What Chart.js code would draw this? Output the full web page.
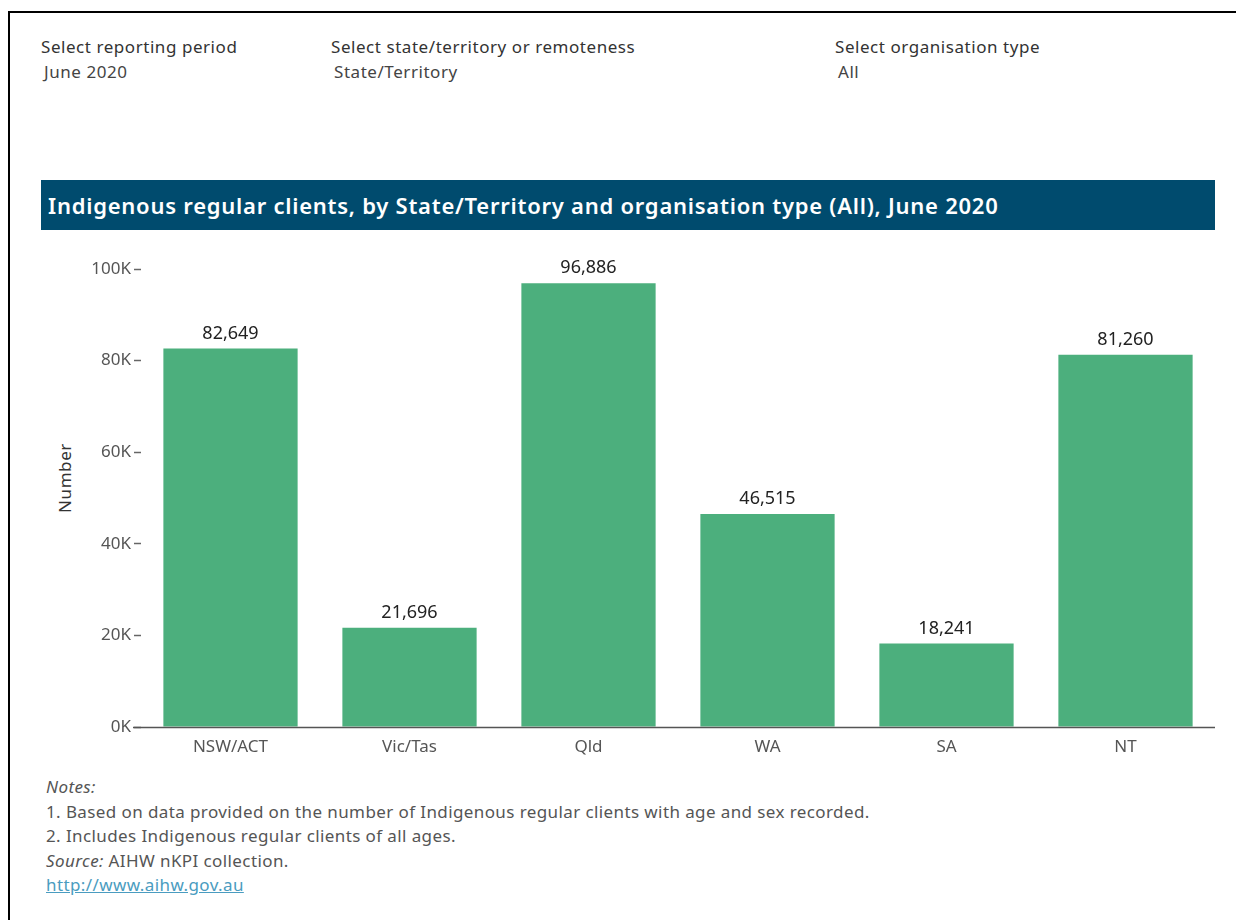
<!DOCTYPE html>
<html>
<head>
<meta charset="utf-8">
<script src="https://cdn.jsdelivr.net/npm/chart.js@4.4.1/dist/chart.umd.min.js"></script>
<style>
  body { margin:0; width:1236px; height:920px; background:#fff; position:relative; overflow:hidden;
         font-family:"Noto Sans", sans-serif; }
  .frame { position:absolute; left:8px; top:11px; width:1240px; height:920px;
           border-top:2px solid #000; border-left:2px solid #000; }
  .filter { position:absolute; top:35px; font-size:17px; letter-spacing:0.55px; color:#333; line-height:23px; }
  .filter .v { margin-top:2px; margin-left:3px; color:#444; }
  .banner { position:absolute; left:41px; top:180px; width:1174px; height:50px; background:#004b6e;
            color:#fff; font-size:22px; font-weight:600; letter-spacing:0.75px; line-height:50px; padding-left:7px;
            box-sizing:border-box; white-space:nowrap; }
  #wrap { position:absolute; left:40px; top:245px; width:1176px; height:520px; }
  .ytitle { position:absolute; left:64px; top:478px; transform:translate(-50%,-50%) rotate(-90deg);
            font-size:17px; letter-spacing:0.6px; color:#333; white-space:nowrap; }
  .notes { position:absolute; left:46px; top:775px; font-size:17px; letter-spacing:0.4px; color:#555; line-height:24.6px; }
  .notes i { color:#555; }
  .notes a { color:#4a9cc0; text-decoration:underline; }
</style>
</head>
<body>
<div class="frame"></div>

<div class="filter" style="left:41px">Select reporting period<div class="v">June 2020</div></div>
<div class="filter" style="left:331px">Select state/territory or remoteness<div class="v">State/Territory</div></div>
<div class="filter" style="left:835px">Select organisation type<div class="v">All</div></div>

<div class="banner">Indigenous regular clients, by State/Territory and organisation type (All), June 2020</div>

<div class="ytitle">Number</div>
<div id="wrap"><canvas id="chart"></canvas></div>

<div class="notes">
  <i>Notes:</i><br>
  1. Based on data provided on the number of Indigenous regular clients with age and sex recorded.<br>
  2. Includes Indigenous regular clients of all ages.<br>
  <i>Source:</i> AIHW nKPI collection.<br>
  <a>http://www.aihw.gov.au</a>
</div>

<script>
// Regions and client counts
const regions = ['NSW/ACT', 'Vic/Tas', 'Qld', 'WA', 'SA', 'NT'];
const clients = [82649, 21696, 96886, 46515, 18241, 81260];
const yTicks = [0, 20000, 40000, 60000, 80000, 100000];

const BAR_GREEN = '#4caf7d';

// Value labels above each bar
const valueLabels = {
  id: 'valueLabels',
  afterDatasetsDraw(chart) {
    const ctx = chart.ctx;
    const meta = chart.getDatasetMeta(0);
    ctx.save();
    ctx.font = '18px "Noto Sans", sans-serif';
    ctx.fillStyle = '#222';
    ctx.textAlign = 'center';
    ctx.textBaseline = 'bottom';
    meta.data.forEach((bar, i) => {
      const v = chart.data.datasets[0].data[i];
      ctx.fillText(v.toLocaleString('en-US'), bar.x, bar.y - 6);
    });
    ctx.restore();
  }
};

// Baseline that runs slightly past the left edge of the plot
const baseline = {
  id: 'baseline',
  afterDatasetsDraw(chart) {
    const { ctx, chartArea } = chart;
    const y = chart.scales.y.getPixelForValue(0);
    ctx.save();
    ctx.strokeStyle = '#555';
    ctx.lineWidth = 1.5;
    ctx.beginPath();
    ctx.moveTo(chartArea.left - 8, y + 0.5);
    ctx.lineTo(chartArea.right, y + 0.5);
    ctx.stroke();
    ctx.restore();
  }
};

new Chart(document.getElementById('chart'), {
  type: 'bar',
  data: {
    labels: regions,
    datasets: [{
      data: clients,
      backgroundColor: BAR_GREEN,
      barPercentage: 0.75,
      categoryPercentage: 1.0
    }]
  },
  options: {
    responsive: true,
    maintainAspectRatio: false,
    animation: false,
    layout: { padding: { top: 24, right: 1, left: 0, bottom: 0 } },
    plugins: { legend: { display: false }, tooltip: { enabled: false } },
    scales: {
      x: {
        grid: { display: false, drawTicks: false },
        border: { display: false },
        ticks: { color: '#555', font: { size: 17, family: '"Noto Sans", sans-serif' }, padding: 10 },
        afterFit(scale) { scale.height = 38; }
      },
      y: {
        min: 0, max: 100000,
        afterBuildTicks(scale) { scale.ticks = yTicks.map(v => ({ value: v })); },
        grid: { drawOnChartArea: false, drawTicks: true, tickLength: 7, color: '#666', tickWidth: 1.5 },
        border: { display: false },
        ticks: {
          color: '#555',
          font: { size: 17, family: '"Noto Sans", sans-serif' },
          padding: 3,
          callback: v => (v / 1000) + 'K'
        },
        afterFit(scale) { scale.width = 101; }
      }
    }
  },
  plugins: [valueLabels, baseline]
});
</script>
</body>
</html>
